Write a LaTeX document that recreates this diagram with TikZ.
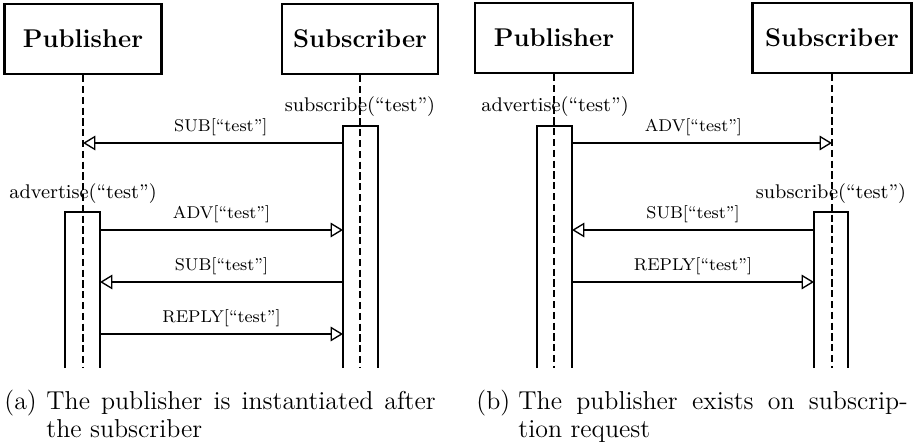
\documentclass[tikz,border=0pt]{standalone}
\usetikzlibrary{arrows.meta}
\begin{document}
\begin{tikzpicture}[x=0.4444pt,y=-0.4444pt,
  actor/.style={draw, line width=1.2pt, minimum height=31pt, inner sep=0pt,
    font=\fontsize{11.4}{13}\selectfont\bfseries},
  life/.style={line width=0.5pt, dash pattern=on 3.2pt off 1.6pt},
  actbox/.style={line width=0.6pt},
  msg/.style={line width=0.6pt, -{Triangle[open, length=5.5pt, width=6.5pt]}},
  msglabel/.style={above, font=\fontsize{7.6}{9}\selectfont, inner sep=3pt},
  call/.style={font=\fontsize{8.8}{10}\selectfont, inner sep=0pt},
  captext/.style={anchor=base west, inner sep=0pt, font=\fontsize{11.5}{12.5}\selectfont}]
\useasboundingbox (0,0) rectangle (920,446);

% ---------- panel (a) ----------
\node[actor, minimum width=69.8pt] (pubA) at (83,39) {Publisher};
\node[actor, minimum width=69.3pt] (subA) at (360,39) {Subscriber};
\coordinate (pubAend) at (83,368);
\coordinate (subAend) at (360,368);
\draw[life] (pubA.south) -- (pubAend);
\draw[life] (subA.south) -- (subAend);

\node[call] (subcallA) at (360,107) {subscribe(``test'')};
\node[call] (advcallA) at (83,194) {advertise(``test'')};

\draw[actbox] (343,368) -- (343,126) -- (378,126) -- (378,368);
\draw[actbox] (65,368) -- (65,212) -- (100,212) -- (100,368);

\coordinate (a1s) at (343,143); \coordinate (a1e) at (83,143);
\coordinate (a2s) at (100,230); \coordinate (a2e) at (343,230);
\coordinate (a3s) at (343,282); \coordinate (a3e) at (100,282);
\coordinate (a4s) at (100,334); \coordinate (a4e) at (343,334);
\draw[msg] (a1s) -- node[msglabel, pos=0.47] {SUB[``test'']} (a1e);
\draw[msg] (a2s) -- node[msglabel] {ADV[``test'']} (a2e);
\draw[msg] (a3s) -- node[msglabel] {SUB[``test'']} (a3e);
\draw[msg] (a4s) -- node[msglabel] {REPLY[``test'']} (a4e);

\node[captext] (capAl) at (4,409) {(a)};
\node[captext] (capA1) at (46,409) {\hbox to 173pt{The publisher is instantiated after}};
\node[captext] (capA2) at (46,437) {the subscriber};

% ---------- panel (b) ----------
\node[actor, minimum width=70.2pt] (pubB) at (554,38) {Publisher};
\node[actor, minimum width=70.7pt] (subB) at (832,38) {Subscriber};
\coordinate (pubBend) at (554,368);
\coordinate (subBend) at (832,368);
\draw[life] (pubB.south) -- (pubBend);
\draw[life] (subB.south) -- (subBend);

\node[call] (advcallB) at (555,107) {advertise(``test'')};
\node[call] (subcallB) at (831,194) {subscribe(``test'')};

\draw[actbox] (537,368) -- (537,126) -- (572,126) -- (572,368);
\draw[actbox] (814,368) -- (814,212) -- (848,212) -- (848,368);

\coordinate (b1s) at (572,143); \coordinate (b1e) at (832,143);
\coordinate (b2s) at (814,230); \coordinate (b2e) at (572,230);
\coordinate (b3s) at (572,282); \coordinate (b3e) at (814,282);
\draw[msg] (b1s) -- node[msglabel, pos=0.467] {ADV[``test'']} (b1e);
\draw[msg] (b2s) -- node[msglabel] {SUB[``test'']} (b2e);
\draw[msg] (b3s) -- node[msglabel] {REPLY[``test'']} (b3e);

\node[captext] (capBl) at (476,409) {(b)};
\node[captext] (capB1) at (518,409) {\hbox to 173pt{The publisher exists on subscrip-}};
\node[captext] (capB2) at (518,437) {tion request};
\end{tikzpicture}
\end{document}
